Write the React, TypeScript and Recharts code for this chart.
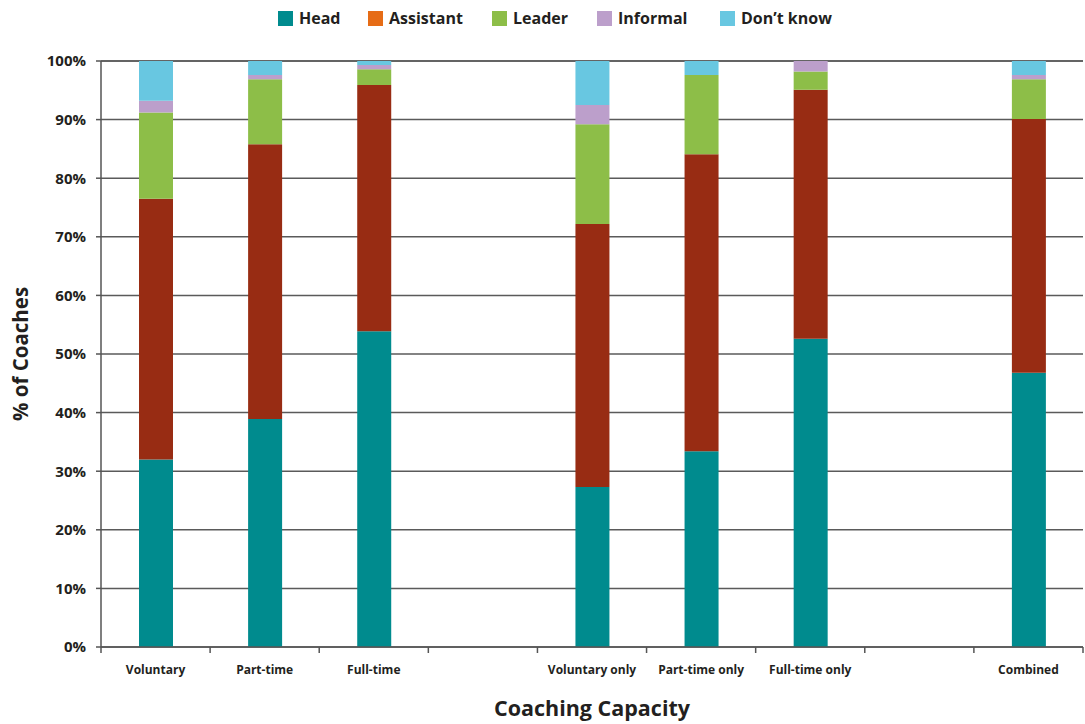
import React from 'react';
import { BarChart, Bar, XAxis, YAxis, CartesianGrid, Label } from 'recharts';

const categories = ['Voluntary', 'Part-time', 'Full-time', '', 'Voluntary only', 'Part-time only', 'Full-time only', '', 'Combined'];
const head = [32.0, 38.9, 53.9, null, 27.3, 33.4, 52.6, null, 46.8];
const assistant = [44.5, 46.9, 42.0, null, 44.9, 50.7, 42.5, null, 43.3];
const leader = [14.7, 11.1, 2.7, null, 17.0, 13.5, 3.1, null, 6.8];
const informal = [2.0, 0.7, 0.7, null, 3.3, 0, 1.8, null, 0.7];
const dontKnow = [6.8, 2.4, 0.7, null, 7.5, 2.4, 0, null, 2.4];
const yTicks = [0, 10, 20, 30, 40, 50, 60, 70, 80, 90, 100];

const series = [
  { key: 'head', name: 'Head', color: '#008B8E', legend: '#008B8E' },
  { key: 'assistant', name: 'Assistant', color: '#982C13', legend: '#E66C16' },
  { key: 'leader', name: 'Leader', color: '#8DBE48', legend: '#8DBE48' },
  { key: 'informal', name: 'Informal', color: '#BC9FCB', legend: '#BC9FCB' },
  { key: 'dontKnow', name: 'Don\u2019t know', color: '#68C7E1', legend: '#68C7E1' },
];
const legendX = [278, 368, 492, 597, 720];

const data = categories.map((c, i) => ({
  id: `c${i}`,
  label: c,
  head: head[i],
  assistant: assistant[i],
  leader: leader[i],
  informal: informal[i],
  dontKnow: dontKnow[i],
}));

const FONT = '"Open Sans", "Noto Sans", sans-serif';

function XTick(props: any) {
  const { x, y, index, width, visibleTicksCount } = props;
  const bw = width / visibleTicksCount;
  const label = categories[index] ?? '';
  return (
    <g>
      <line x1={x - bw / 2} x2={x - bw / 2} y1={y} y2={y + 6} stroke="#555" strokeWidth={1.5} />
      {index === visibleTicksCount - 1 && (
        <line x1={x + bw / 2} x2={x + bw / 2} y1={y} y2={y + 6} stroke="#555" strokeWidth={1.5} />
      )}
      <text x={x} y={y + 27} textAnchor="middle" fontFamily={FONT} fontWeight={700} fontSize={12} fill="#231F20">
        {label}
      </text>
    </g>
  );
}

export default function App() {
  return (
    <div style={{ position: 'absolute', left: 0, top: 0, width: 1085, height: 724, background: '#fff' }}>
      <div style={{ position: 'absolute', top: 0, left: 0, width: 1085, height: 36, fontFamily: FONT }}>
        {series.map((s, i) => (
          <div key={s.key} style={{ position: 'absolute', left: legendX[i], top: 7, display: 'flex', alignItems: 'center', height: 22 }}>
            <span style={{ display: 'inline-block', width: 15, height: 15, background: s.legend, marginRight: 6 }} />
            <span style={{ fontSize: 16, fontWeight: 700, color: '#231F20' }}>{s.name}</span>
          </div>
        ))}
      </div>
      <BarChart
        width={1085}
        height={724}
        data={data}
        margin={{ top: 61, right: 2, bottom: 47, left: 41 }}
        barCategoryGap={0}
      >
        <CartesianGrid vertical={false} stroke="#5a5a5a" strokeWidth={1.5} />
        <XAxis
          dataKey="id"
          interval={0}
          tickSize={0}
          tickMargin={0}
          tickLine={false}
          height={30}
          axisLine={{ stroke: '#555', strokeWidth: 1.5 }}
          tick={<XTick />}
        >
          <Label
            content={(p: any) => (
              <text
                x={p.viewBox.x + p.viewBox.width / 2}
                y={p.viewBox.y + 69}
                textAnchor="middle"
                fontFamily={FONT}
                fontWeight={700}
                fontSize={21.5}
                fill="#231F20"
              >
                Coaching Capacity
              </text>
            )}
          />
        </XAxis>
        <YAxis
          width={60}
          domain={[0, 100]}
          ticks={yTicks}
          interval={0}
          tickSize={5}
          tickMargin={10}
          tickFormatter={(v: number) => `${v}%`}
          axisLine={{ stroke: '#555', strokeWidth: 1.5 }}
          tickLine={{ stroke: '#555', strokeWidth: 1.5 }}
          tick={{ fontFamily: FONT, fontWeight: 700, fontSize: 15, fill: '#231F20' }}
        >
          <Label
            content={(p: any) => {
              const cx = 20;
              const cy = p.viewBox.y + p.viewBox.height / 2;
              return (
                <text
                  x={cx}
                  y={cy}
                  transform={`rotate(-90 ${cx} ${cy})`}
                  textAnchor="middle"
                  dominantBaseline="central"
                  fontFamily={FONT}
                  fontWeight={700}
                  fontSize={20.5}
                  fill="#231F20"
                >
                  % of Coaches
                </text>
              );
            }}
          />
        </YAxis>
        {series.map((s) => (
          <Bar key={s.key} dataKey={s.key} name={s.name} stackId="a" fill={s.color} barSize={34} isAnimationActive={false} />
        ))}
      </BarChart>
    </div>
  );
}
